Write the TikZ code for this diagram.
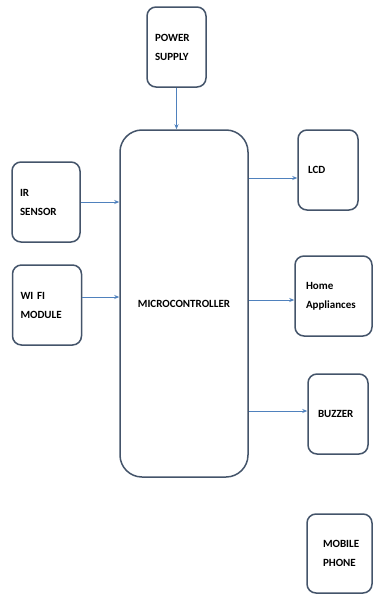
\documentclass[tikz,border=0pt]{standalone}
\usepackage{fontspec}
\setmainfont{Carlito}
\usepackage{xcolor}
\usetikzlibrary{arrows.meta}
\definecolor{boxline}{HTML}{44546A}
\definecolor{sigline}{HTML}{4F81BD}
\tikzset{
blockbox/.style={draw=boxline, line width=1.5pt, rounded corners=9pt, fill=white, align=left, inner ysep=0pt, font=\bfseries\fontsize{11}{13}\selectfont},
sig/.style={draw=sigline, line width=1pt, -{Stealth[length=5pt,width=4pt]}}
}
\begin{document}
\begin{tikzpicture}[x=1pt, y=-1pt]
\useasboundingbox (0,0) rectangle (377,597);
\node[blockbox, inner xsep=8pt, text width=43pt, minimum height=80pt] (power) at (176.5,47) {POWER\\[6pt]SUPPLY};
\node[blockbox, inner xsep=8pt, text width=52pt, minimum height=80pt] (ir) at (46,202) {IR\\[6pt]SENSOR};
\node[blockbox, inner xsep=8pt, text width=53pt, minimum height=80pt] (wifi) at (47,305) {WI FI\\[6pt]MODULE};
\node[blockbox, rounded corners=22pt, align=center, inner xsep=0pt, text width=128pt, minimum height=347pt] (micro) at (184,303.5) {MICROCONTROLLER};
\node[blockbox, inner xsep=10pt, text width=40pt, minimum height=80pt] (lcd) at (328,170) {LCD};
\node[blockbox, inner xsep=11pt, text width=55pt, minimum height=80pt] (home) at (333.5,296) {Home\\[6pt]Appliances};
\node[blockbox, inner xsep=10pt, text width=40pt, minimum height=80pt] (buzzer) at (338,414) {BUZZER};
\node[blockbox, inner xsep=16pt, text width=33pt, minimum height=79pt] (mobile) at (339.5,553.5) {MOBILE\\[6pt]PHONE};
\draw[sig] (power) -- (power |- micro.north);
\draw[sig] (ir) -- (ir -| micro.west);
\draw[sig] ([yshift=8pt]wifi.east) -- ([yshift=8pt]wifi.east -| micro.west);
\draw[sig] ([yshift=-8pt]lcd.west -| micro.east) -- ([yshift=-8pt]lcd.west);
\draw[sig] ([yshift=-4pt]home.west -| micro.east) -- ([yshift=-4pt]home.west);
\draw[sig] ([yshift=3pt]buzzer.west -| micro.east) -- ([yshift=3pt]buzzer.west);
\end{tikzpicture}
\end{document}
